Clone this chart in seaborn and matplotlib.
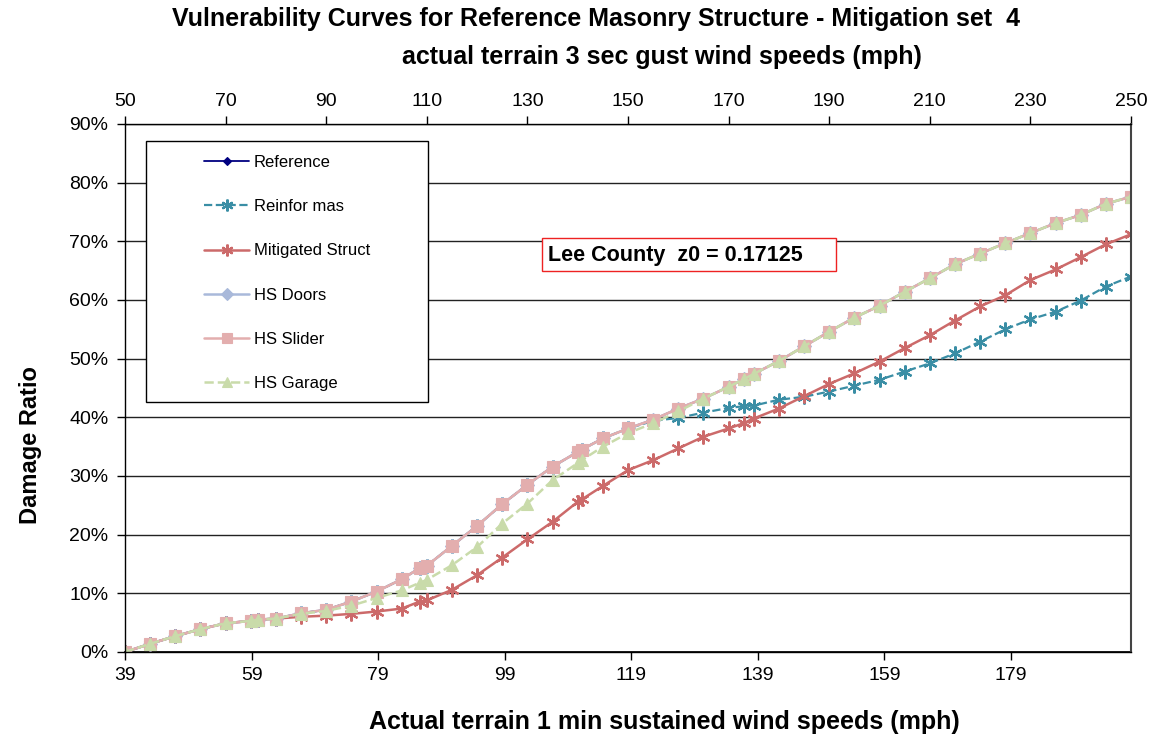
import matplotlib
matplotlib.use("Agg")
import matplotlib.pyplot as plt
from matplotlib.patches import Rectangle
import seaborn as sns
import pandas as pd

# 3-sec gust wind speed (mph) at which each curve is evaluated
gust_mph = [50, 55, 60, 65, 70, 75, 76.4, 80, 85, 90, 95, 100, 105, 108.6, 110,
            115, 120, 125, 130, 135, 140, 140.8, 145, 150, 155, 160, 165, 170,
            173, 175, 180, 185, 190, 195, 200, 205, 210, 215, 220, 225, 230,
            235, 240, 245, 250]

# damage ratio (%) per curve
reference = [0.0, 1.4, 2.7, 3.9, 4.9, 5.3, 5.5, 5.7, 6.6, 7.2, 8.6, 10.3, 12.4, 14.3, 14.7,
             18.1, 21.5, 25.2, 28.5, 31.6, 34.1, 34.5, 36.4, 38.1, 39.6, 41.5, 43.2, 45.2,
             46.5, 47.4, 49.6, 52.1, 54.6, 57.0, 59.0, 61.4, 63.7, 66.1, 67.9, 69.7, 71.4,
             73.1, 74.5, 76.4, 77.6]
reinfor_mas = [0.0, 1.4, 2.7, 3.9, 4.9, 5.3, 5.5, 5.7, 6.6, 7.2, 8.6, 10.3, 12.4, 14.3, 14.7,
               18.1, 21.5, 25.2, 28.5, 31.6, 34.1, 34.5, 36.4, 38.1, 39.4, 39.9, 40.8, 41.6,
               41.9, 42.0, 43.0, 43.5, 44.4, 45.4, 46.4, 47.8, 49.2, 50.9, 52.9, 55.0, 56.7,
               58.0, 59.9, 62.3, 64.0]
mitigated = [0.0, 1.4, 2.7, 3.9, 4.9, 5.3, 5.5, 5.7, 6.0, 6.2, 6.5, 6.9, 7.4, 8.6, 8.8,
             10.6, 13.1, 16.1, 19.2, 22.2, 25.6, 26.0, 28.3, 31.0, 32.7, 34.7, 36.7, 38.1,
             39.0, 39.8, 41.5, 43.6, 45.7, 47.5, 49.5, 51.8, 54.0, 56.5, 58.9, 60.8, 63.4,
             65.2, 67.3, 69.5, 71.2]
hs_doors = list(reference)
hs_slider = list(reference)
hs_garage = [0.0, 1.4, 2.7, 3.9, 4.9, 5.3, 5.5, 5.7, 6.5, 7.0, 7.9, 9.2, 10.5, 11.8, 12.3,
             14.8, 17.9, 21.9, 25.3, 29.3, 32.2, 32.7, 35.0, 37.3, 39.0, 41.0, 43.2, 45.2,
             46.5, 47.4, 49.6, 52.1, 54.6, 57.0, 59.0, 61.4, 63.7, 66.1, 67.9, 69.7, 71.4,
             73.1, 74.5, 76.4, 77.6]

labels = ["Reference", "Reinfor mas", "Mitigated Struct", "HS Doors", "HS Slider", "HS Garage"]
top_ticks = [50, 70, 90, 110, 130, 150, 170, 190, 210, 230, 250]
bottom_ticks = [39, 59, 79, 99, 119, 139, 159, 179]
y_ticks = [0, 10, 20, 30, 40, 50, 60, 70, 80, 90]

series = [reference, reinfor_mas, mitigated, hs_doors, hs_slider, hs_garage]
styles = [
    dict(color="#000080", marker="D", ms=4.5, ls="-", lw=1.3),
    dict(color="#3A8EA5", marker=(6, 2, 0), ms=10, ls="--", lw=1.6),
    dict(color="#CC6A6A", marker=(6, 2, 0), ms=10, ls="-", lw=1.8),
    dict(color="#A9B9DA", marker="D", ms=7, ls="-", lw=1.8),
    dict(color="#E3AEAE", marker="s", ms=8, ls="-", lw=1.8),
    dict(color="#C9DBAA", marker="^", ms=8.5, ls="--", lw=1.8),
]

sns.set_theme(style="white")
plt.rcParams["font.family"] = ["Liberation Sans", "DejaVu Sans"]
plt.rcParams.update({"text.color": "black", "axes.labelcolor": "black",
                     "xtick.color": "black", "ytick.color": "black"})

fig = plt.figure(figsize=(11.56, 7.45), dpi=100)
ax = fig.add_axes([125 / 1156, 1 - 652 / 745, 1006 / 1156, 528 / 745])

for name, vals, st in zip(labels, series, styles):
    df = pd.DataFrame({"gust": gust_mph, "damage": vals})
    sns.lineplot(data=df, x="gust", y="damage", ax=ax, label=name,
                 color=st["color"], linestyle=st["ls"], linewidth=st["lw"],
                 marker=st["marker"], markersize=st["ms"],
                 markerfacecolor=st["color"], markeredgecolor=st["color"],
                 markeredgewidth=1.6 if isinstance(st["marker"], tuple) else 0.8,
                 sort=False)

ax.set_xlim(50, 250)
ax.set_ylim(0, 90)
ax.set_yticks(y_ticks)
ax.set_yticklabels([f"{v}%" for v in y_ticks], fontsize=14)
ax.yaxis.grid(True, color="#222222", linewidth=1.0)
ax.xaxis.grid(False)
ax.set_ylabel("Damage Ratio", fontsize=17, fontweight="bold")
ax.yaxis.set_label_coords(-0.0825, 0.392)

# gust speeds on top
ax.xaxis.set_ticks_position("top")
ax.set_xticks(top_ticks)
ax.set_xticklabels([str(t) for t in top_ticks], fontsize=14)
ax.set_xlabel("")
ax.tick_params(axis="x", which="both", top=True, bottom=False, direction="out",
               length=6, width=1, color="black", pad=4)
ax.tick_params(axis="y", left=True, direction="out", length=6, width=1,
               color="black", pad=6)


def gust_to_sust(g):
    return (g - 0.95) / 1.258


def sust_to_gust(s):
    return s * 1.258 + 0.95


secax = ax.secondary_xaxis("bottom", functions=(gust_to_sust, sust_to_gust))
secax.set_xticks(bottom_ticks)
secax.set_xticklabels([str(t) for t in bottom_ticks], fontsize=14)
secax.tick_params(direction="out", length=6, width=1, color="black", pad=5)
secax.spines["bottom"].set_color("black")

for side in ["left", "top", "bottom"]:
    ax.spines[side].set_color("black")
    ax.spines[side].set_linewidth(1.0)
ax.spines["right"].set_color("#444444")
ax.spines["right"].set_linewidth(1.5)

# legend inside a framed box
box = Rectangle((21 / 1006, 250 / 528), 282 / 1006, 261 / 528, transform=ax.transAxes,
                facecolor="white", edgecolor="black", linewidth=1.0, zorder=5)
ax.add_patch(box)
leg = ax.legend(loc="upper left", bbox_to_anchor=(204 / 1156, 1 - 155 / 745),
                bbox_transform=fig.transFigure, frameon=False, fontsize=12,
                handlelength=2.7, handletextpad=0.3, labelspacing=1.75,
                borderpad=0, borderaxespad=0, markerscale=0.85)
leg.set_zorder(6)

# site annotation
note = Rectangle((417 / 1006, 381 / 528), 294 / 1006, 33 / 528, transform=ax.transAxes,
                 facecolor="white", edgecolor="#EE2222", linewidth=1.0, zorder=7)
ax.add_patch(note)
ax.text(548 / 1156, 1 - 256 / 745, "Lee County  z0 = 0.17125", transform=fig.transFigure,
        fontsize=15.5, fontweight="bold", va="center", ha="left", zorder=8)

fig.text(596 / 1156, 1 - 19 / 745,
         "Vulnerability Curves for Reference Masonry Structure - Mitigation set  4",
         fontsize=18, fontweight="bold", ha="center", va="center")
fig.text(662 / 1156, 1 - 57 / 745, "actual terrain 3 sec gust wind speeds (mph)",
         fontsize=18, fontweight="bold", ha="center", va="center")
fig.text(664 / 1156, 1 - 722 / 745, "Actual terrain 1 min sustained wind speeds (mph)",
         fontsize=18, fontweight="bold", ha="center", va="center")

fig.savefig("out.png", dpi=100, facecolor="white")
